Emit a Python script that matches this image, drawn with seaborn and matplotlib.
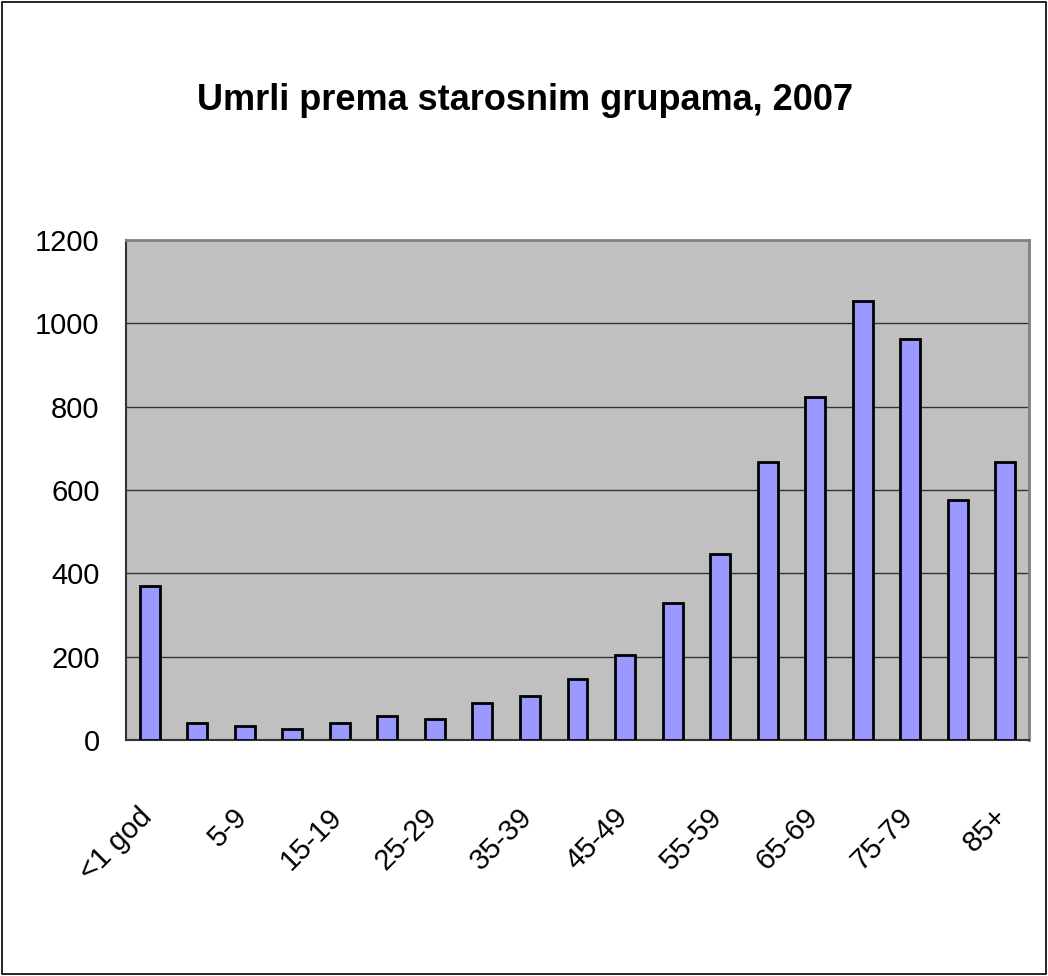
import matplotlib
matplotlib.use('Agg')
import matplotlib.pyplot as plt
import matplotlib.transforms as mtransforms
import seaborn as sns
import pandas as pd
from matplotlib.patches import Rectangle

# data
groups = ['<1 god', '1-4', '5-9', '10-14', '15-19', '20-24', '25-29', '30-34',
          '35-39', '40-44', '45-49', '50-54', '55-59', '60-64', '65-69',
          '70-74', '75-79', '80-84', '85+']
deaths = [370, 41, 33, 26, 41, 58, 50, 90, 106, 147, 205, 330, 446, 667,
          824, 1054, 963, 577, 667]
yticks = [0, 200, 400, 600, 800, 1000, 1200]

df = pd.DataFrame({'group': groups, 'deaths': deaths})

sns.set_style('white')
plt.rcParams['font.family'] = ['Liberation Sans', 'DejaVu Sans']
plt.rcParams['text.color'] = 'black'
plt.rcParams['xtick.color'] = 'black'
plt.rcParams['ytick.color'] = 'black'

fig = plt.figure(figsize=(10.48, 9.76), dpi=100)
ax = fig.add_axes([0.1202, 0.2418, 0.8617, 0.5123])
ax.set_facecolor('#C0C0C0')

sns.barplot(data=df, x='group', y='deaths', color='#9999FF', saturation=1,
            width=0.42, edgecolor='black', linewidth=2, ax=ax, zorder=3)

ax.set_ylim(0, 1200)
ax.set_xlim(-0.5, len(groups) - 0.5)
ax.set_yticks(yticks)
ax.set_yticklabels([str(v) for v in yticks], fontsize=21)
ax.yaxis.grid(True, color='#333333', linewidth=1)
ax.set_axisbelow(True)
ax.tick_params(axis='y', direction='out', length=9, width=1, color='#333333', pad=10)

# labels only on every other category, tick marks at category borders
ax.set_xticks(range(len(groups)))
ax.set_xticklabels([g if i % 2 == 0 else '' for i, g in enumerate(groups)],
                   rotation=45, ha='right', va='top', fontsize=21)
ax.tick_params(axis='x', which='major', length=0, pad=45)
shift = mtransforms.ScaledTranslation(0.08, 0, fig.dpi_scale_trans)
for lab in ax.get_xticklabels():
    lab.set_transform(lab.get_transform() + shift)
ax.set_xticks([i - 0.5 for i in range(len(groups) + 1)], minor=True)
ax.tick_params(axis='x', which='minor', direction='out', length=13, width=1, color='#555555')

for side in ['top', 'right']:
    ax.spines[side].set_color('#808080')
    ax.spines[side].set_linewidth(2)
ax.spines['left'].set_color('#333333')
ax.spines['bottom'].set_color('#333333')
ax.spines['left'].set_linewidth(1.5)
ax.spines['bottom'].set_linewidth(1.5)

ax.set_xlabel('')
ax.set_ylabel('')

fig.text(0.501, 0.897, 'Umrli prema starosnim grupama, 2007', ha='center', va='center',
         fontsize=26, fontweight='bold', color='black')

fig.patches.append(Rectangle((0.002, 0.002), 0.996, 0.996, transform=fig.transFigure,
                             fill=False, edgecolor='black', linewidth=1.2))

fig.savefig('out.png', dpi=100)
